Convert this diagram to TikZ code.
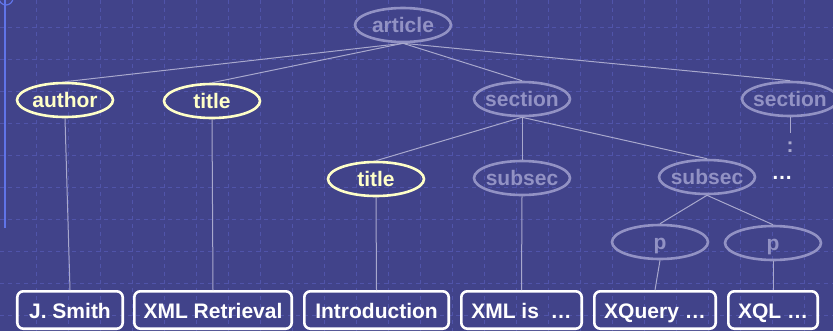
\documentclass[tikz,border=0pt]{standalone}
\usepackage{fontspec}
\setmainfont{Liberation Sans}
\usetikzlibrary{shapes.geometric}

\definecolor{bg}{RGB}{65,67,138}
\definecolor{gridc}{RGB}{80,84,170}
\definecolor{ghost}{RGB}{146,146,196}
\definecolor{cream}{RGB}{255,255,200}
\definecolor{edgec}{RGB}{168,168,205}
\definecolor{rail}{RGB}{96,116,232}

\begin{document}
\begin{tikzpicture}[x=1bp,y=-1bp,
  every node/.style={font=\fontsize{21bp}{24bp}\selectfont\bfseries},
  elem/.style={ellipse, draw, line width=2.6bp, minimum width=96bp, minimum height=34bp,
    inner xsep=-15bp, inner ysep=0pt, text height=15bp, text depth=1bp},
  dim/.style={elem, draw=ghost, text=ghost},
  hot/.style={elem, draw=cream, text=cream},
  leaf/.style={draw=white, text=white, line width=2.6bp, rounded corners=6bp,
    minimum height=37.4bp, inner sep=0pt, text height=16bp, text depth=0bp},
  link/.style={draw=edgec, line width=1bp}]

% slide background and faint dashed grid
\fill[bg] (0,0) rectangle (833,331);
\useasboundingbox (0,0) rectangle (833,331);
\foreach \gx in {36.5,68.5,...,836}
  \draw[gridc, dash pattern=on 4bp off 4bp, line width=0.8bp] (\gx,0) -- (\gx,331);
\foreach \gy in {27,59,...,331}
  \draw[gridc, dash pattern=on 4bp off 4bp, line width=0.8bp] (0,\gy) -- (833,\gy);

% left rail with its ring
\draw[rail, line width=2bp] (4.5,0) -- (4.5,228);
\draw[rail, line width=1.2bp] (6,-2) circle[radius=7bp];

% element nodes
\node[dim] (art) at (403,25) {article};
\node[hot] (au)  at (65,100) {author};
\node[hot] (ti)  at (212,101) {title};
\node[dim] (s1)  at (522,99) {section};
\node[dim] (s2)  at (790,99) {section};
\node[hot] (t2)  at (376,179) {title};
\node[dim] (ss1) at (522,178) {subsec};
\node[dim] (ss2) at (707,177) {subsec};
\node[dim] (p1)  at (660,242) {p};
\node[dim] (p2)  at (773,243) {p};
\node[text=white] (more) at (782,178) {…};
\node[text=edgec, inner sep=0pt] (cont) at (790,147.5) {:};
\coordinate (tail) at (790,133);

% text leaves
\node[leaf, minimum width=105.4bp] (l1) at (70,310)    {J. Smith};
\node[leaf, minimum width=157.4bp] (l2) at (213,310)   {XML Retrieval};
\node[leaf, minimum width=144.4bp] (l3) at (376.5,310) {Introduction};
\node[leaf, minimum width=120.4bp] (l4) at (521.5,310) {XML is\ \ …};
\node[leaf, minimum width=121.4bp] (l5) at (655,310)   {XQuery …};
\node[leaf, minimum width=89.4bp]  (l6) at (773,310)   {XQL …};

% tree edges
\draw[link] (art.south) -- (au.north);
\draw[link] (art.south) -- (ti.north);
\draw[link] (art.south) -- (s1.north);
\draw[link] (art.south) -- (s2.north);
\draw[link] (s1.south) -- (t2.north);
\draw[link] (s1.south) -- (ss1.north);
\draw[link] (s1.south) -- (ss2.north);
\draw[link] (s2.south) -- (tail);
\draw[link] (ss2.south) -- (p1.north);
\draw[link] (ss2.south) -- (p2.north);
\draw[link] (au.south) -- (l1.north);
\draw[link] (ti.south) -- (l2.north);
\draw[link] (t2.south) -- (l3.north);
\draw[link] (ss1.south) -- (l4.north);
\draw[link] (p1.south) -- (l5.north);
\draw[link] (p2.south) -- (l6.north);
\end{tikzpicture}
\end{document}
